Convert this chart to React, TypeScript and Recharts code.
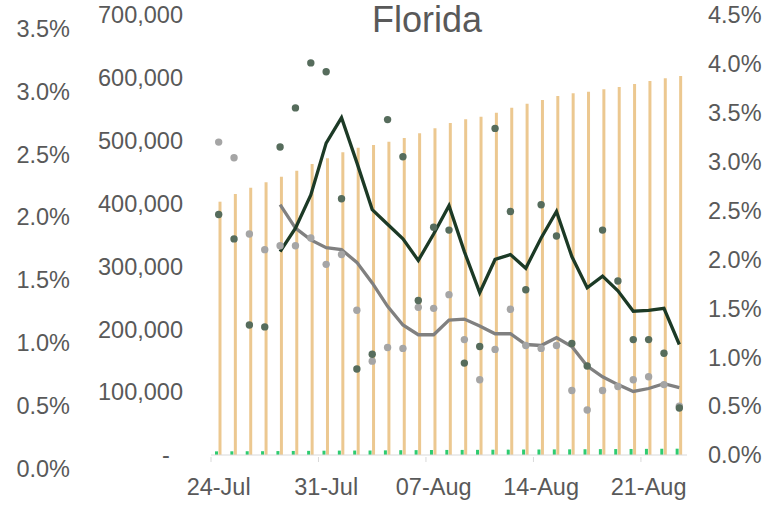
import React from 'react';
import { ComposedChart, Bar, Line, XAxis, YAxis } from 'recharts';

const dates = [
  '24-Jul', '25-Jul', '26-Jul', '27-Jul', '28-Jul', '29-Jul', '30-Jul', '31-Jul',
  '01-Aug', '02-Aug', '03-Aug', '04-Aug', '05-Aug', '06-Aug', '07-Aug', '08-Aug',
  '09-Aug', '10-Aug', '11-Aug', '12-Aug', '13-Aug', '14-Aug', '15-Aug', '16-Aug',
  '17-Aug', '18-Aug', '19-Aug', '20-Aug', '21-Aug', '22-Aug', '23-Aug',
];

const totalCases = [
  403000, 415200, 425300, 433800, 442800, 452300, 463000, 472000,
  481600, 488900, 493200, 498400, 504300, 511800, 519700, 528200,
  534100, 538200, 544600, 552500, 558900, 564800, 571100, 575400,
  578000, 581800, 585500, 590200, 595000, 599300, 603000,
];

const totalDeaths = [
  5800, 5900, 6000, 6050, 6250, 6450, 6600, 6850,
  7000, 7100, 7150, 7400, 7650, 7750, 7950, 8050,
  8100, 8200, 8400, 8550, 8700, 8750, 8900, 9000,
  9150, 9350, 9450, 9600, 9750, 9950, 10050,
];

// daily % values (gray dots) and their rolling average (gray line)
const grayDaily = [
  3.2, 3.04, 2.26, 2.1, 2.14, 2.14, 2.22, 1.95,
  2.05, 1.48, 0.96, 1.1, 1.09, 1.51, 1.5, 1.64,
  1.18, 0.77, 1.08, 1.49, 1.12, 1.09, 1.12, 0.66,
  0.46, 0.66, 0.7, 0.77, 0.8, 0.72, 0.5,
];
const grayAvg = [
  null, null, null, null, 2.56, 2.32, 2.2, 2.12,
  2.1, 1.97, 1.76, 1.52, 1.33, 1.23, 1.23, 1.38,
  1.39, 1.32, 1.24, 1.24, 1.13, 1.12, 1.2, 1.11,
  0.91, 0.8, 0.72, 0.65, 0.68, 0.73, 0.69,
];

// daily % values (dark dots) and their rolling average (dark line)
const darkDaily = [
  2.46, 2.21, 1.33, 1.31, 3.15, 3.55, 4.01, 3.92,
  2.62, 0.88, 1.03, 3.43, 3.05, 1.58, 2.33, 2.3,
  0.94, 1.11, 3.34, 2.49, 1.69, 2.56, 2.24, 1.14,
  0.91, 2.3, 1.78, 1.18, 1.18, 1.04, 0.48,
];
const darkAvg = [
  null, null, null, null, 2.08, 2.32, 2.66, 3.19,
  3.45, 2.99, 2.51, 2.36, 2.21, 1.99, 2.26, 2.55,
  2.08, 1.66, 2.0, 2.05, 1.91, 2.22, 2.49, 2.03,
  1.71, 1.83, 1.68, 1.47, 1.48, 1.5, 1.13,
];

const countTicks = [0, 100000, 200000, 300000, 400000, 500000, 600000, 700000];
const leftPctTicks = [0, 0.5, 1, 1.5, 2, 2.5, 3, 3.5];
const rightPctTicks = [0, 0.5, 1, 1.5, 2, 2.5, 3, 3.5, 4, 4.5];

const data = dates.map((d, i) => ({
  date: d,
  cases: totalCases[i],
  deaths: totalDeaths[i],
  grayDot: grayDaily[i],
  grayAvg: grayAvg[i],
  darkDot: darkDaily[i],
  darkAvg: darkAvg[i],
}));

const W = 765;
const H = 517;
const PLOT_LEFT = 211;
const PLOT_RIGHT = 687;
const HALF_BAND = (PLOT_RIGHT - PLOT_LEFT) / dates.length / 2;
const FONT = '"Liberation Sans", Arial, sans-serif';
const TEXT = '#595959';
const FS = 23.5;

const makeYTick = (anchor: 'start' | 'end', fmt: (v: number) => string, dy: number) =>
  (props: any) => {
    const { x, y, payload } = props;
    return (
      <text x={x} y={y + dy} dy="0.355em" textAnchor={anchor} fill={TEXT}
        fontSize={FS} fontFamily={FONT}>
        {fmt(payload.value)}
      </text>
    );
  };

const fmtCount = (v: number) => (v === 0 ? '-\u00A0\u00A0' : v.toLocaleString('en-US'));
const fmtPct = (v: number) => `${v.toFixed(1)}%`;

const XTick = (props: any) => {
  const { x, y, payload } = props;
  return (
    <g>
      <line x1={x - HALF_BAND} x2={x - HALF_BAND} y1={y} y2={y + 5} stroke="#d9d9d9" strokeWidth={1} />
      <text x={x} y={y + 38} textAnchor="middle" fill={TEXT} fontSize={FS} fontFamily={FONT}>
        {payload.value}
      </text>
    </g>
  );
};

export default function App() {
  return (
    <div style={{ position: 'absolute', left: 0, top: 0, width: W, height: H, background: '#fff' }}>
      <div
        style={{
          position: 'absolute', left: 327, top: 2, width: 200, textAlign: 'center',
          fontFamily: FONT, fontSize: 36, lineHeight: '36px', color: TEXT,
        }}
      >
        Florida
      </div>
      <ComposedChart
        width={W}
        height={H}
        data={data}
        margin={{ top: 15, right: 0, bottom: 0, left: 0 }}
        barGap={0.5}
        barCategoryGap={0}
      >
        <XAxis
          dataKey="date"
          height={62}
          interval={6}
          tickLine={false}
          axisLine={{ stroke: '#d9d9d9', strokeWidth: 1 }}
          tick={<XTick />}
          tickSize={0}
        />
        <YAxis
          yAxisId="cnt"
          orientation="left"
          width={120}
          domain={[0, 700000]}
          ticks={countTicks}
          interval={0}
          axisLine={false}
          tickLine={false}
          tickSize={0}
          tickMargin={28}
          tick={makeYTick('end', fmtCount, 0)}
        />
        <YAxis
          yAxisId="pl"
          orientation="left"
          width={91}
          domain={[0, 3.5]}
          allowDataOverflow
          ticks={leftPctTicks}
          interval={0}
          axisLine={false}
          tickLine={false}
          tickSize={0}
          tickMargin={21}
          tick={makeYTick('end', fmtPct, 13.5)}
        />
        <YAxis
          yAxisId="pr"
          orientation="right"
          width={78}
          domain={[0, 4.5]}
          ticks={rightPctTicks}
          interval={0}
          axisLine={false}
          tickLine={false}
          tickSize={0}
          tickMargin={21}
          tick={makeYTick('start', fmtPct, 0)}
        />
        <Bar yAxisId="cnt" dataKey="deaths" fill="#2ecc71" barSize={3} isAnimationActive={false} />
        <Bar yAxisId="cnt" dataKey="cases" fill="#ecc890" barSize={3} isAnimationActive={false} />
        <Line yAxisId="pl" dataKey="grayDot" stroke="none" strokeWidth={0} legendType="none"
          dot={false} activeDot={false} isAnimationActive={false} />
        <Line yAxisId="pr" dataKey="grayDot" stroke="none" legendType="none"
          dot={{ r: 3.7, fill: '#a5a5a5', stroke: 'none' }} activeDot={false} isAnimationActive={false} />
        <Line yAxisId="pr" dataKey="darkDot" stroke="none" legendType="none"
          dot={{ r: 3.7, fill: '#566c5c', stroke: 'none' }} activeDot={false} isAnimationActive={false} />
        <Line yAxisId="pr" dataKey="grayAvg" stroke="#808080" strokeWidth={3.3} dot={false}
          activeDot={false} isAnimationActive={false} />
        <Line yAxisId="pr" dataKey="darkAvg" stroke="#1c3a26" strokeWidth={3.3} dot={false}
          activeDot={false} isAnimationActive={false} />
      </ComposedChart>
    </div>
  );
}
